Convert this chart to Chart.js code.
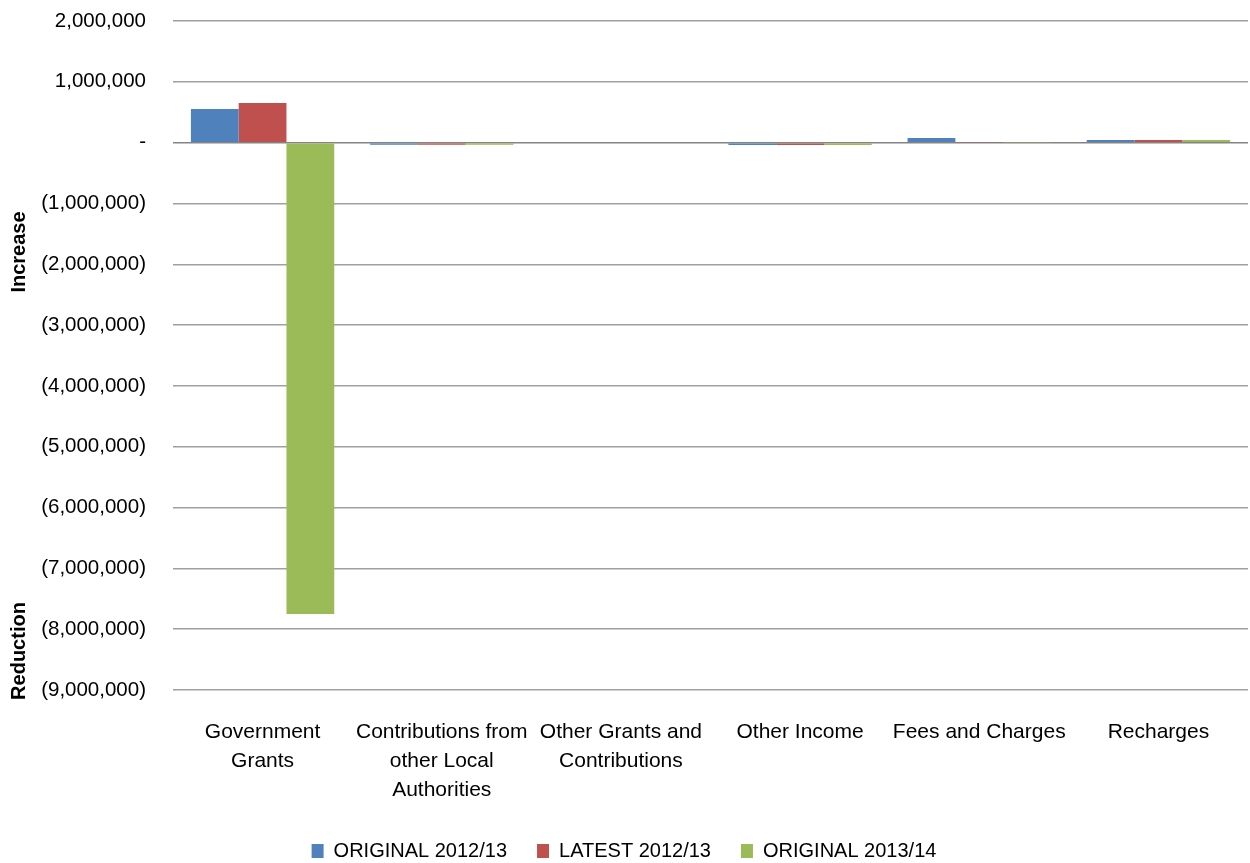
<!DOCTYPE html>
<html>
<head>
<meta charset="utf-8">
<title>Income variances</title>
<script src="https://cdn.jsdelivr.net/npm/chart.js@4.4.0/dist/chart.umd.min.js"></script>
<style>
  html, body { margin: 0; padding: 0; background: #fff; }
  #wrap { width: 1250px; height: 863px; }
</style>
</head>
<body>
<div id="wrap"><canvas id="incomeChart"></canvas></div>
<script>
// Income headings
const categories = [
    ['Government', 'Grants'],
    ['Contributions from', 'other Local', 'Authorities'],
    ['Other Grants and', 'Contributions'],
    'Other Income',
    'Fees and Charges',
    'Recharges'
];

// Variance per heading for each budget
const original1213 = [555000, -35000, 0, -40000, 77000, 45000];
const latest1213 = [650000, -35000, 0, -40000, 8000, 45000];
const original1314 = [-7750000, -35000, 0, -40000, 8000, 45000];

const yMin = -9000000;
const yMax = 2000000;
const yStep = 1000000;

// Negative numbers in brackets, zero as a dash
function formatMoney(v) {
    if (v === 0) return '-';
    const s = Math.abs(v).toLocaleString('en-US');
    return v < 0 ? '(' + s + ')' : s;
}

const FONT = "'Liberation Sans', Arial, sans-serif";

// Two bold side labels on the value axis
const sideTitles = {
    id: 'sideTitles',
    afterDraw(chart) {
        const ctx = chart.ctx;
        ctx.save();
        ctx.font = 'bold 20px ' + FONT;
        ctx.fillStyle = '#000';
        ctx.textAlign = 'center';
        ctx.textBaseline = 'middle';
        [['Increase', 252], ['Reduction', 651]].forEach(([txt, y]) => {
            ctx.save();
            ctx.translate(19, y);
            ctx.rotate(-Math.PI / 2);
            ctx.fillText(txt, 0, 0);
            ctx.restore();
        });
        ctx.restore();
    }
};

const ctx = document.getElementById('incomeChart').getContext('2d');
new Chart(ctx, {
    type: 'bar',
    data: {
        labels: categories,
        datasets: [
            { label: 'ORIGINAL 2012/13', data: original1213, backgroundColor: '#4F81BD' },
            { label: 'LATEST 2012/13', data: latest1213, backgroundColor: '#C0504D' },
            { label: 'ORIGINAL 2013/14', data: original1314, backgroundColor: '#9BBB59' }
        ]
    },
    options: {
        responsive: true,
        maintainAspectRatio: false,
        animation: false,
        datasets: {
            bar: { categoryPercentage: 0.8, barPercentage: 1.0 }
        },
        layout: { padding: { top: 21, right: 2, bottom: -8, left: 0 } },
        plugins: {
            legend: {
                position: 'bottom',
                labels: {
                    boxWidth: 12,
                    boxHeight: 14,
                    padding: 30,
                    color: '#000',
                    font: { family: FONT, size: 20 }
                }
            },
            tooltip: { enabled: false }
        },
        scales: {
            x: {
                afterFit(scale) { scale.height -= 14; },
                grid: { display: false },
                border: { display: false },
                ticks: {
                    color: '#000',
                    padding: 20,
                    maxRotation: 0,
                    autoSkip: false,
                    font: { family: FONT, size: 21, lineHeight: 1.38 }
                }
            },
            y: {
                min: yMin,
                max: yMax,
                afterFit(scale) {
                    scale.width = 173;
                    scale.paddingTop = 0;
                    scale.paddingBottom = 0;
                },
                border: { display: false },
                grid: {
                    drawTicks: false,
                    lineWidth: 1.5,
                    color: (c) => c.tick && c.tick.value === 0 ? '#848484' : '#a0a0a0'
                },
                ticks: {
                    stepSize: yStep,
                    padding: 27,
                    color: '#000',
                    font: { family: FONT, size: 20.5 },
                    callback: (v) => formatMoney(v)
                }
            }
        }
    },
    plugins: [sideTitles]
});
</script>
</body>
</html>
